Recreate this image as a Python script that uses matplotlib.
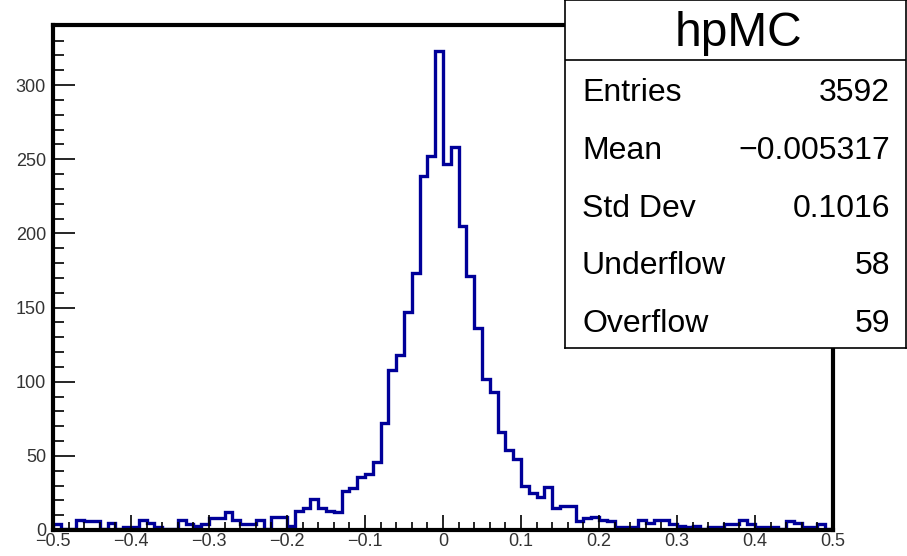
import numpy as np
import matplotlib.pyplot as plt
from matplotlib.ticker import MultipleLocator, FuncFormatter

plt.rcParams['font.family'] = ['Liberation Sans', 'DejaVu Sans']

# 100 bins between -0.5 and 0.5
edges = np.linspace(-0.5, 0.5, 101)
counts = [
    4, 1, 1, 7, 6, 6, 1, 5, 1, 2,
    2, 7, 5, 2, 1, 1, 7, 4, 3, 4,
    8, 8, 12, 7, 4, 4, 7, 1, 9, 9,
    3, 13, 15, 21, 15, 13, 12, 26, 28, 36,
    38, 46, 72, 108, 118, 147, 173, 239, 252, 323,
    247, 258, 205, 171, 136, 102, 93, 66, 54, 48,
    30, 25, 22, 29, 15, 16, 16, 6, 8, 9,
    7, 6, 2, 2, 2, 7, 5, 7, 7, 4,
    3, 2, 3, 1, 2, 2, 4, 4, 7, 4,
    2, 2, 2, 1, 6, 5, 2, 2, 4, 1,
]

hist_name = "hpMC"
stat_labels = ["Entries", "Mean", "Std Dev", "Underflow", "Overflow"]
stat_values = ["3592", "\u22120.005317", "0.1016", "58", "59"]

W, H = 907, 556
fig = plt.figure(figsize=(W / 100, H / 100), dpi=100)
ax = fig.add_axes([53 / W, 26 / H, 780 / W, 505 / H])

ax.stairs(counts, edges, baseline=0, color='#000099', linewidth=2.4)

ax.set_xlim(-0.5, 0.5)
ax.set_ylim(0, 340.5)

for s in ax.spines.values():
    s.set_linewidth(3)

# ROOT-like ticks: inside, bottom and left only
ax.xaxis.set_major_locator(MultipleLocator(0.1))
ax.xaxis.set_minor_locator(MultipleLocator(0.02))
ax.yaxis.set_major_locator(MultipleLocator(50))
ax.yaxis.set_minor_locator(MultipleLocator(10))

fmt = FuncFormatter(lambda v, p: f"{round(v, 2):g}".replace('-', '\u2212'))
ax.xaxis.set_major_formatter(fmt)
ax.yaxis.set_major_formatter(fmt)

ax.tick_params(axis='x', which='major', direction='in', length=11, width=1.2,
               labelsize=13, pad=2, labelcolor='#333333')
ax.tick_params(axis='x', which='minor', direction='in', length=5.5, width=1.2)
ax.tick_params(axis='y', which='major', direction='in', length=16, width=1.2,
               labelsize=13, pad=5, labelcolor='#333333')
ax.tick_params(axis='y', which='minor', direction='in', length=8, width=1.2)
ax.tick_params(top=False, right=False)

# stats box in the top right corner
box = fig.add_axes([565 / W, 208 / H, 341 / W, 348 / H])
box.set_xticks([])
box.set_yticks([])
box.set_xlim(0, 341)
box.set_ylim(348, 0)
box.set_facecolor('white')
for s in box.spines.values():
    s.set_linewidth(1.2)
box.axhline(60, color='black', linewidth=1.2)

box.text(173, 46, hist_name, fontsize=34.5, ha='center', va='baseline')
for i, (lab, val) in enumerate(zip(stat_labels, stat_values)):
    yb = 101 + 57.8 * i
    box.text(17, yb, lab, fontsize=23, ha='left', va='baseline')
    box.text(325, yb, val, fontsize=23, ha='right', va='baseline')

fig.savefig('out.png', dpi=100)
